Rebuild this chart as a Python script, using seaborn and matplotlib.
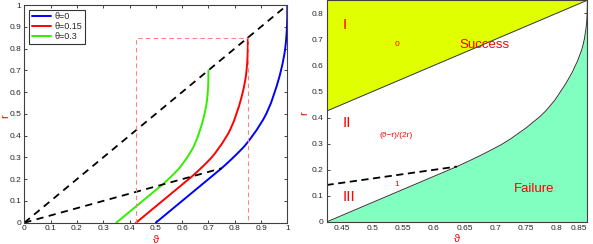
import numpy as np
import pandas as pd
import matplotlib
matplotlib.use("Agg")
import matplotlib.pyplot as plt
import seaborn as sns

# ========== DATOS ==========
# curva theta=0 (azul)
blue_x = [0.5, 0.75, 0.773, 0.795, 0.816, 0.836, 0.853, 0.868, 0.883, 0.896, 0.909, 0.92, 0.929, 0.938,
          0.945, 0.952, 0.959, 0.965, 0.971, 0.976, 0.981, 0.985, 0.989, 0.992, 0.9943, 0.996, 0.9976,
          0.9987, 0.9994, 0.9998, 1.0, 1.0]
blue_r = [0.0, 0.25, 0.275, 0.3, 0.325, 0.35, 0.375, 0.4, 0.425, 0.45, 0.475, 0.5, 0.525, 0.55, 0.575,
          0.6, 0.625, 0.65, 0.675, 0.7, 0.725, 0.75, 0.775, 0.8, 0.825, 0.85, 0.875, 0.9, 0.925, 0.95,
          0.975, 1.0]
# curva theta=0.15 (roja)
red_x = [0.425, 0.6375, 0.6571, 0.6758, 0.6936, 0.7106, 0.7251, 0.7378, 0.7506, 0.7616, 0.7727, 0.782,
         0.7897, 0.7973, 0.8033, 0.8092, 0.8152, 0.8203, 0.8254, 0.8296, 0.8339, 0.8373, 0.8407, 0.8432,
         0.8452, 0.8466, 0.848, 0.8489, 0.8495, 0.8498, 0.85, 0.85]
red_r = [0.0, 0.2125, 0.23375, 0.255, 0.27625, 0.2975, 0.31875, 0.34, 0.36125, 0.3825, 0.40375, 0.425,
         0.44625, 0.4675, 0.48875, 0.51, 0.53125, 0.5525, 0.57375, 0.595, 0.61625, 0.6375, 0.65875, 0.68,
         0.70125, 0.7225, 0.74375, 0.765, 0.78625, 0.8075, 0.82875, 0.85]
# curva theta=0.3 (verde)
green_x = [0.35, 0.525, 0.5411, 0.5565, 0.5712, 0.5852, 0.5971, 0.6076, 0.6181, 0.6272, 0.6363, 0.644,
           0.6503, 0.6566, 0.6615, 0.6664, 0.6713, 0.6755, 0.6797, 0.6832, 0.6867, 0.6895, 0.6923, 0.6944,
           0.696, 0.6972, 0.6983, 0.6991, 0.6996, 0.6999, 0.7, 0.7]
green_r = [0.0, 0.175, 0.1925, 0.21, 0.2275, 0.245, 0.2625, 0.28, 0.2975, 0.315, 0.3325, 0.35, 0.3675,
           0.385, 0.4025, 0.42, 0.4375, 0.455, 0.4725, 0.49, 0.5075, 0.525, 0.5425, 0.56, 0.5775, 0.595,
           0.6125, 0.63, 0.6475, 0.665, 0.6825, 0.7]
labels = ["θ=0", "θ=0.15", "θ=0.3"]

# rectas discontinuas
diag_x = [0.0, 1.0]
diag_r = [0.0, 1.0]
third_x = [0.0, 0.75]
third_r = [0.0, 0.25]
# rectángulo rojo (zona del panel derecho)
box_x = [0.425, 0.425, 0.85, 0.85]
box_r = [0.0, 0.85, 0.85, 0.0]

# panel derecho
right_xticks = [0.45, 0.5, 0.55, 0.6, 0.65, 0.7, 0.75, 0.8, 0.85]
right_yticks = [0, 0.1, 0.2, 0.3, 0.4, 0.5, 0.6, 0.7, 0.8]
sep_x = [0.425, 0.6375]
sep_r = [0.1417, 0.2125]

# ========== FIGURA ==========
sns.set_style("ticks")
plt.rcParams["font.family"] = ["Liberation Sans", "DejaVu Sans"]
fig = plt.figure(figsize=(5.93, 2.44), dpi=100)
ax1 = fig.add_axes([0.041, 0.0873, 0.4435, 0.8922])
ax2 = fig.add_axes([0.5506, 0.0902, 0.4398, 0.9088])

# ---- panel izquierdo ----
curves = pd.concat([
    pd.DataFrame({"x": blue_x, "r": blue_r, "c": labels[0]}),
    pd.DataFrame({"x": red_x, "r": red_r, "c": labels[1]}),
    pd.DataFrame({"x": green_x, "r": green_r, "c": labels[2]}),
])
sns.lineplot(data=curves, x="x", y="r", hue="c", sort=False, estimator=None,
             palette=["#0000ff", "#ff0000", "#33ee00"], linewidth=1.4, ax=ax1, legend=True)
ax1.plot(diag_x, diag_r, color="black", ls=(0, (4, 3)), lw=1.3)
ax1.plot(third_x, third_r, color="black", ls=(0, (4, 3)), lw=1.3)
ax1.plot(box_x, box_r, color="#ff8080", ls=(0, (4, 3)), lw=0.8)

ax1.set_xlim(0, 1)
ax1.set_ylim(0, 1)
ax1.set_xticks(np.arange(0, 1.01, 0.1))
ax1.set_yticks(np.arange(0, 1.01, 0.1))
ax1.set_xticklabels(["0", "0.1", "0.2", "0.3", "0.4", "0.5", "0.6", "0.7", "0.8", "0.9", "1"])
ax1.set_yticklabels(["0", "0.1", "0.2", "0.3", "0.4", "0.5", "0.6", "0.7", "0.8", "0.9", "1"])
ax1.set_xlabel("ϑ", color="red", fontsize=8)
ax1.set_ylabel("r", color="red", fontsize=8)
ax1.xaxis.set_label_coords(0.5, -0.055)
ax1.yaxis.set_label_coords(-0.052, 0.49)
leg = ax1.legend(loc="upper left", fontsize=6.5, frameon=True, fancybox=False,
                 edgecolor="black", handlelength=2.2, borderpad=0.3, labelspacing=0.1,
                 handletextpad=0.3, borderaxespad=0.5)
leg.get_frame().set_linewidth(0.8)

# ---- panel derecho ----
ax2.fill_between(diag_x, diag_r, 1.0, color="#e0ff00", lw=0)
ax2.fill_betweenx(red_r, red_x, 1.0, color="#80ffc0", lw=0)
ax2.plot(diag_x, diag_r, color="#333333", lw=0.7)
ax2.plot(red_x, red_r, color="#333333", lw=0.7)
ax2.plot(sep_x, sep_r, color="black", ls=(0, (4, 2.5)), lw=1.3)

ax2.text(0.455, 0.755, "I", color="red", fontsize=11, ha="center", va="center")
ax2.text(0.540, 0.68, "0", color="red", fontsize=6, ha="center", va="center")
ax2.text(0.682, 0.68, "Success", color="red", fontsize=9.5, ha="center", va="center")
ax2.text(0.458, 0.378, "II", color="red", fontsize=11, ha="center", va="center")
ax2.text(0.539, 0.333, "(ϑ−r)/(2r)", color="red", fontsize=6, ha="center", va="center")
ax2.text(0.539, 0.142, "1", color="red", fontsize=6, ha="center", va="center")
ax2.text(0.462, 0.097, "III", color="red", fontsize=11, ha="center", va="center")
ax2.text(0.764, 0.125, "Failure", color="red", fontsize=9.5, ha="center", va="center")

ax2.set_xlim(0.425, 0.85)
ax2.set_ylim(0, 0.85)
ax2.set_xticks(right_xticks)
ax2.set_yticks(right_yticks)
ax2.set_xticklabels(["0.45", "0.5", "0.55", "0.6", "0.65", "0.7", "0.75", "0.8", "0.85"])
ax2.set_yticklabels(["0", "0.1", "0.2", "0.3", "0.4", "0.5", "0.6", "0.7", "0.8"])
ax2.set_xlabel("ϑ", color="red", fontsize=8)
ax2.set_ylabel("r", color="red", fontsize=8)
ax2.xaxis.set_label_coords(0.5, -0.055)
ax2.yaxis.set_label_coords(-0.067, 0.49)

for ax in (ax1, ax2):
    ax.tick_params(direction="in", length=2.5, width=0.6, labelsize=6, pad=2,
                   top=True, right=True)
    for s in ax.spines.values():
        s.set_linewidth(0.8)
        s.set_color("#404040")

# la última etiqueta del panel derecho queda pegada al borde
ax2.get_xticklabels()[-1].set_horizontalalignment("right")

fig.savefig("out.png", dpi=100)
